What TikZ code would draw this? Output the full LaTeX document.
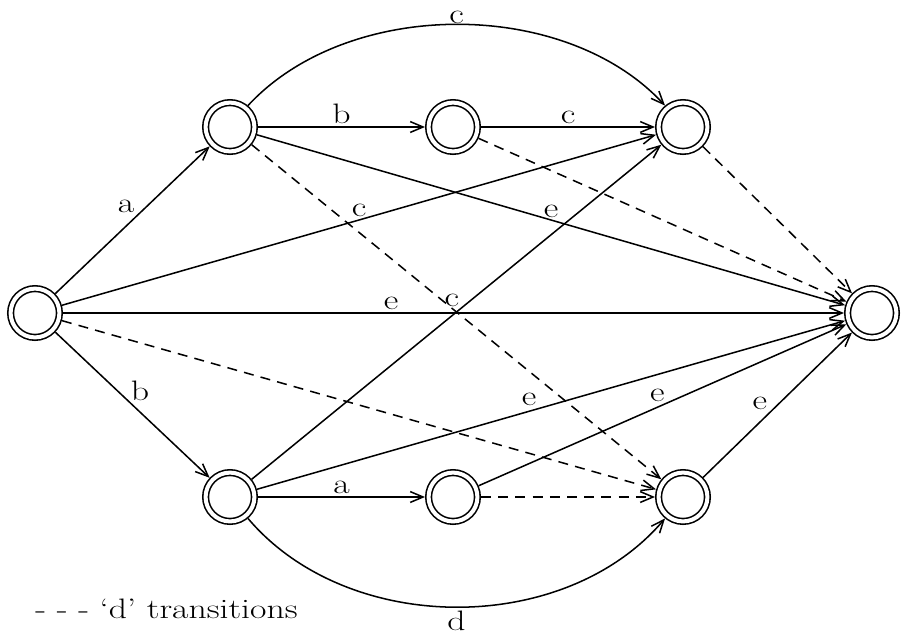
\documentclass[tikz,border=0pt]{standalone}
\usetikzlibrary{arrows.meta}
\newcommand{\wtxt}[1]{\scalebox{1.27}[1]{#1}}
\begin{document}
\begin{tikzpicture}[x=0.025cm, y=-0.025cm,
  state/.style={circle, draw, double, line width=0.04cm, double distance=0.1cm,
    minimum size=1.22cm, inner sep=0pt, outer sep=0.09cm},
  edge/.style={line width=0.038cm, -{Straight Barb[length=0.32cm,width=0.27cm,line width=0.038cm]}},
  dedge/.style={edge, dash pattern=on 0.25cm off 0.18cm},
  lab/.style={font=\fontsize{20}{24}\selectfont, inner sep=1.5pt}
]
\useasboundingbox (0,0) rectangle (908,640);

\node[state] (S) at (35,313) {};
\node[state] (A) at (230,127) {};
\node[state] (B) at (453,127) {};
\node[state] (C) at (683,127) {};
\node[state] (F) at (872,313) {};
\node[state] (D) at (230,497) {};
\node[state] (E) at (453,497) {};
\node[state] (G) at (683,497) {};

% solid transitions
\draw[edge] (S) -- node[lab, pos=0.53, above left] {\wtxt{a}} (A);
\draw[edge] (S) -- node[lab, pos=0.48, above right, inner sep=0.5pt] {\wtxt{b}} (D);
\draw[edge] (A) -- node[lab, pos=0.5, above] {\wtxt{b}} (B);
\draw[edge] (B) -- node[lab, pos=0.5, above] {\wtxt{c}} (C);
\draw[edge] (D) -- node[lab, pos=0.5, above] {\wtxt{a}} (E);
\draw[edge] (S) -- node[lab, pos=0.5, above] {\wtxt{c}} (C);
\draw[edge] (S) -- node[lab, pos=0.42, above] {\wtxt{e}} (F);
\draw[edge] (D) -- node[lab, pos=0.51, above left, inner sep=0.5pt] {\wtxt{c}} (C);
\draw[edge] (D) -- node[lab, pos=0.48, above left] {\wtxt{e}} (F);
\draw[edge] (E) -- node[lab, pos=0.51, above left, inner sep=0.5pt] {\wtxt{e}} (F);
\draw[edge] (G) -- node[lab, pos=0.45, above left] {\wtxt{e}} (F);
\draw[edge] (A) -- node[lab, pos=0.5, above, inner sep=1pt] {\wtxt{e}} (F);
\draw[edge] (A.50) .. controls +(100,-108) and +(-100,-108) .. node[lab, pos=0.5, above, inner sep=0pt] {\wtxt{c}} (C.130);
\draw[edge] (D.-50) .. controls +(100,118) and +(-100,118) .. node[lab, pos=0.5, below, inner sep=2pt] {\wtxt{d}} (G.-130);

% dashed 'd' transitions
\draw[dedge] (A) -- (G);
\draw[dedge] (B) -- (F);
\draw[dedge] (C) -- (F);
\draw[dedge] (S) -- (G);
\draw[dedge] (E) -- (G);

\node[lab, anchor=west, inner sep=0pt] (legend) at (35,609) {\wtxt{- - - ‘d’ transitions}};
\end{tikzpicture}
\end{document}
